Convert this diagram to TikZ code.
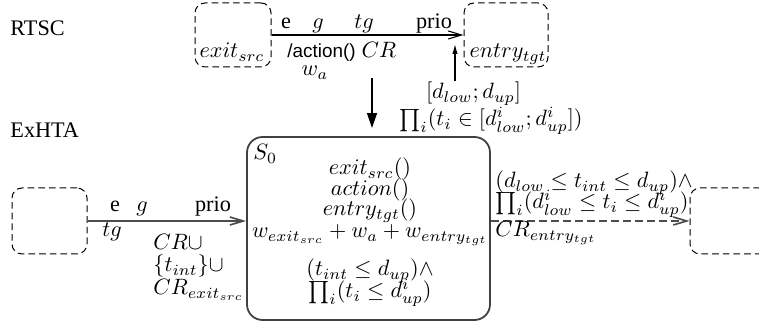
\documentclass[tikz,border=0pt]{standalone}
\usepackage[no-math]{fontspec}
\setmainfont{Liberation Serif}
\newfontfamily\actfont{Liberation Sans}
\usetikzlibrary{arrows.meta}
\begin{document}
\begin{tikzpicture}[x=0.45pt,y=-0.45pt,
  lbl/.style={inner sep=0pt, anchor=base},
  lblw/.style={inner sep=0pt, anchor=base west},
  dbox/.style={draw, dash pattern=on 3pt off 1.8pt, rounded corners=4.5pt, line width=0.45pt, inner sep=0pt},
  arr/.style={line width=0.5pt, -{Straight Barb[length=6pt,width=3.6pt]}},
  garr/.style={draw=black!70, line width=0.75pt, -{Straight Barb[length=6pt,width=3.6pt]}},
  mainbox/.style={draw=black!75, line width=0.8pt, rounded corners=7pt, inner sep=0pt}]
\useasboundingbox (0,0) rectangle (759,324);

% titles
\node[lblw] (rtsc) at (10,36) {RTSC};
\node[lblw] (exhta) at (10,138) {ExHTA};

% RTSC part
\node[dbox, minimum width=76*0.45pt, minimum height=64*0.45pt] (src) at (233,35) {};
\node[dbox, minimum width=84*0.45pt, minimum height=64*0.45pt] (tgt) at (506,35) {};
\node[lbl] (exitsrc) at (232,58) {$exit_{src}$};
\node[lbl] (entrytgt) at (508,58) {$entry_{tgt}$};
\draw[arr] (src.east) -- (tgt.west);
\node[lbl] (te) at (286,29) {e};
\node[lbl] (tgg) at (318,29) {$g$};
\node[lbl] (ttg) at (364,29) {$tg$};
\node[lbl] (tprio) at (434,29) {prio};
\node[lblw] (taction) at (287,58) {\actfont\fontsize{8.5}{10}\selectfont /action()};
\node[lbl] (tcr) at (379,58) {$CR$};
\node[lbl] (twa) at (315,76) {$w_a$};
\node[lbl] (tdl) at (473.5,99) {$[d_{low};d_{up}]$};
\coordinate (dtail) at (455,81);
\coordinate (dhead) at (455,44);
\draw[line width=0.5pt, -{Latex[length=4.5pt,width=2.4pt]}] (dtail) -- (dhead);

% mapping arrow
\coordinate (mtail) at (372,78);
\coordinate (mhead) at (372,128);
\draw[line width=0.5pt, -{Triangle[length=6.7pt,width=4.5pt]}] (mtail) -- (mhead);
\node[lbl] (prodlab) at (491,126) {$\prod_i(t_i\in[d^i_{low};d^i_{up}])$};

% ExHTA part
\node[mainbox, minimum width=243*0.45pt, minimum height=183*0.45pt] (main) at (368.5,228.5) {};
\node[lblw] (s0) at (253,160) {$S_0$};
\node[lbl] (m1) at (370,175) {$exit_{src}()$};
\node[lbl] (m2) at (370,196) {$action()$};
\node[lbl] (m3) at (370,216) {$entry_{tgt}()$};
\node[lbl] (m4) at (370,238) {$w_{exit_{src}}+w_a+w_{entry_{tgt}}$};
\node[lbl] (m5) at (370,276) {$(t_{int}\leq d_{up})\wedge$};
\node[lbl] (m6) at (370,298) {$\prod_i(t_i\leq d^i_{up})$};

\node[dbox, minimum width=75*0.45pt, minimum height=66*0.45pt] (lsrc) at (49.5,221) {};
\draw[garr] (lsrc.east) -- (lsrc.east -| main.west);
\node[lbl] (le) at (115,212) {e};
\node[lbl] (lg) at (142,212) {$g$};
\node[lbl] (lprio) at (213,212) {prio};
\node[lbl] (ltg) at (112,237) {$tg$};
\node[lblw] (l1) at (153,250) {$CR\cup$};
\node[lblw] (l2) at (153,272) {$\{t_{int}\}\cup$};
\node[lblw] (l3) at (153,295) {$CR_{exit_{src}}$};

\begin{scope}
\clip (0,0) rectangle (759,324);
\node[dbox, minimum width=80*0.45pt, minimum height=66*0.45pt] (rtgt) at (730,221) {};
\end{scope}
\draw[garr, dash pattern=on 3.6pt off 1.8pt] (main.east |- rtgt.west) -- (rtgt.west);
\node[lblw] (r1) at (495,188) {$(d_{low}\leq t_{int}\leq d_{up})\wedge$};
\node[lblw] (r2) at (495,209) {$\prod_i(d^i_{low}\leq t_i\leq d^i_{up})$};
\node[lblw] (r3) at (495,237) {$CR_{entry_{tgt}}$};
\end{tikzpicture}
\end{document}
